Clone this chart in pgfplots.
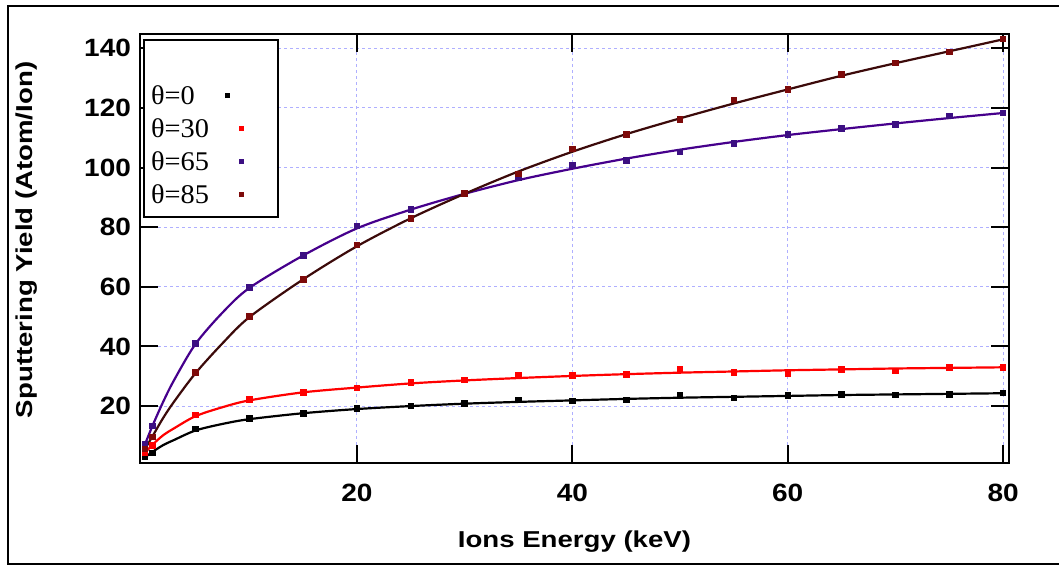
\documentclass[border=0pt]{standalone}
\usepackage{fontspec}
\setmainfont{Liberation Serif}
\newfontfamily\labelfont[FakeStretch=1.2]{Liberation Sans}
\newfontfamily\tickfont[FakeStretch=1.12]{Liberation Sans}
\newfontfamily\legfont[FakeStretch=1.05]{Liberation Serif}
\usepackage{pgfplots}
\pgfplotsset{compat=1.18}
\definecolor{gridc}{RGB}{175,175,255}
\definecolor{cred}{RGB}{255,0,0}
\definecolor{cpurl}{RGB}{70,0,140}
\definecolor{cpurm}{RGB}{60,15,130}
\definecolor{cbrl}{RGB}{60,10,10}
\definecolor{cbrm}{RGB}{125,10,10}
\begin{document}
\begin{tikzpicture}
\begin{axis}[
  at={(0pt,0pt)}, anchor=south west,
  scale only axis, width=434.5pt, height=214.5pt,
  xmin=-0.15, xmax=80.55, ymin=0.9, ymax=144.8,
  xtick={20,40,60,80}, ytick={20,40,60,80,100,120,140},
  tick pos=both, tick align=inside, major tick length=9pt,
  tick style={black, line width=1pt},
  axis line style={black, line width=1.2pt},
  grid=major,
  major grid style={gridc, dash pattern=on 1.5pt off 1.5pt, line width=0.5pt},
  /pgf/number format/assume math mode=true,
  ticklabel style={font=\tickfont\bfseries\fontsize{12.5}{14}\selectfont},
  xticklabel style={yshift=-7pt},
  yticklabel style={xshift=-1pt},
  xlabel={Ions Energy (keV)},
  ylabel={Sputtering Yield (Atom/Ion)},
  xlabel style={at={(axis description cs:0.5,-0.184)}, anchor=center, font=\labelfont\bfseries\fontsize{11.5}{13}\selectfont},
  ylabel style={at={(axis description cs:-0.130,0.52)}, anchor=center, font=\labelfont\bfseries\fontsize{11.5}{13}\selectfont},
  legend plot pos=none,
  legend cell align=left,
  legend style={at={(0.0035,0.988)}, anchor=north west, draw=black, line width=1pt,
    inner xsep=3.5pt, inner ysep=3pt, row sep=0pt,
    font=\legfont\fontsize{13.5}{15}\selectfont,
    nodes={inner xsep=0pt, inner ysep=0pt, text height=12.5pt, text depth=4pt, text width=60pt, align=left}},
]
\addlegendimage{empty legend}
\addlegendentry{}
% fitted curves
\addplot[black, line width=1.1pt, smooth, forget plot] coordinates {
(0.3,2.8) (1,4.6) (2,6.9) (3,8.6) (5,11.8) (7.5,14.0) (10,15.6) (15,17.6) (20,19.0) (25,20.0) (30,20.8) (35,21.4) (40,21.9) (45,22.4) (50,22.8) (55,23.1) (60,23.4) (65,23.7) (70,23.9) (75,24.1) (80,24.3)};
\addplot[cred, line width=1.1pt, smooth, forget plot] coordinates {
(0.3,4.2) (1,7.0) (2,10.2) (3,12.5) (5,16.6) (7.5,19.6) (10,21.9) (15,24.6) (20,26.2) (25,27.6) (30,28.6) (35,29.4) (40,30.1) (45,30.7) (50,31.2) (55,31.6) (60,32.0) (65,32.3) (70,32.6) (75,32.8) (80,33.0)};
\addplot[cpurl, line width=1.1pt, smooth, forget plot] coordinates {
(0.3,7.0) (1,13.3) (2,21.4) (3,28.6) (5,40.8) (7.5,51.3) (10,59.6) (15,70.5) (20,79.6) (25,85.9) (30,91.2) (35,95.8) (40,99.6) (45,103.0) (50,106.0) (55,108.6) (60,110.9) (65,112.9) (70,114.8) (75,116.6) (80,118.3)};
\addplot[cbrl, line width=1.1pt, smooth, forget plot] coordinates {
(0.3,5.5) (1,9.8) (2,16.0) (3,21.4) (5,31.0) (7.5,41.0) (10,49.8) (15,62.5) (20,73.6) (25,83.0) (30,91.2) (35,98.7) (40,105.3) (45,111.2) (50,116.5) (55,121.5) (60,126.2) (65,130.8) (70,135.0) (75,139.0) (80,143.0)};
% data points
\addplot[only marks, mark=square*, mark size=1.4pt, black] coordinates {
(0.3,3.0) (1,4.3) (5,12.3) (10,15.8) (15,17.6) (20,19.3) (25,20.1) (30,20.9) (35,22.0) (40,21.7) (45,22.0) (50,23.5) (55,22.8) (60,23.5) (65,23.9) (70,23.7) (75,24.0) (80,24.4)};
\addlegendentry{θ=0\hspace{15pt}\textcolor{black}{\rule[3pt]{2.6pt}{2.6pt}}}
\addplot[only marks, mark=square*, mark size=1.4pt, cred] coordinates {
(0.3,4.5) (1,6.9) (5,17.0) (10,22.2) (15,24.6) (20,26.1) (25,27.9) (30,28.8) (35,30.4) (40,30.3) (45,30.7) (50,32.3) (55,31.3) (60,31.0) (65,32.3) (70,31.8) (75,33.0) (80,33.0)};
\addlegendentry{θ=30\hspace{15pt}\textcolor{cred}{\rule[3pt]{2.6pt}{2.6pt}}}
\addplot[only marks, mark=square*, mark size=1.4pt, cpurm] coordinates {
(0.3,7.3) (1,13.3) (5,41.0) (10,59.8) (15,70.6) (20,80.4) (25,86.0) (30,91.4) (35,96.5) (40,100.9) (45,102.3) (50,105.3) (55,108.2) (60,111.2) (65,113.2) (70,114.5) (75,117.3) (80,118.4)};
\addlegendentry{θ=65\hspace{15pt}\textcolor{cpurm}{\rule[3pt]{2.6pt}{2.6pt}}}
\addplot[only marks, mark=square*, mark size=1.4pt, cbrm] coordinates {
(0.3,5.6) (1,9.7) (5,31.3) (10,50.0) (15,62.5) (20,74.0) (25,83.0) (30,91.4) (35,97.9) (40,106.2) (45,111.2) (50,116.2) (55,122.7) (60,126.3) (65,131.3) (70,135.1) (75,138.8) (80,143.2)};
\addlegendentry{θ=85\hspace{15pt}\textcolor{cbrm}{\rule[3pt]{2.6pt}{2.6pt}}}
\end{axis}
\draw[line width=1pt] (470pt,228.5pt) -- (-66pt,228.5pt) -- (-66pt,-50.5pt) -- (470pt,-50.5pt);
\pgfresetboundingbox
\useasboundingbox (-70pt,-52pt) rectangle (459.5pt,231.5pt);
\end{tikzpicture}
\end{document}
